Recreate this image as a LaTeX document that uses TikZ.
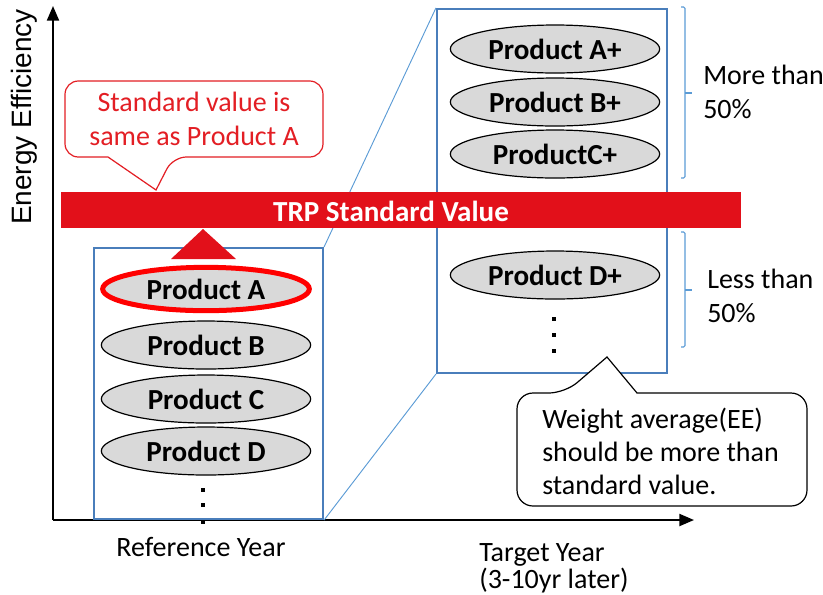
\documentclass[tikz,border=0pt]{standalone}
\usepackage{fontspec}
\setmainfont{Carlito}
\newfontfamily\axisfont{Liberation Sans}
\usetikzlibrary{arrows.meta,shapes.geometric}

\definecolor{trpred}{RGB}{226,16,26}
\definecolor{notered}{RGB}{227,30,36}
\definecolor{boxblue}{RGB}{74,126,187}
\definecolor{linkblue}{RGB}{91,155,213}
\definecolor{prodgray}{RGB}{217,217,217}

\tikzset{
  product/.style={ellipse, draw=black, line width=0.9pt, fill=prodgray,
    minimum width=157pt, minimum height=36pt, inner sep=0pt,
    font=\fontsize{21.8}{25}\selectfont\bfseries},
  yearbox/.style={draw=boxblue, line width=1.6pt, inner sep=0pt},
  link/.style={draw=linkblue, line width=0.7pt},
  bracket/.style={draw=linkblue, line width=0.8pt, rounded corners=1pt},
  note/.style={font=\fontsize{21}{25.5}\selectfont, align=left, inner sep=0pt},
  vdot/.style={fill=black, minimum size=3.6pt, inner sep=0pt},
}

\begin{document}
\begin{tikzpicture}[x=0.75pt,y=-0.75pt]
\useasboundingbox (0,0) rectangle (823,594);

% axes
\draw[line width=1.6pt, -{Triangle[length=11pt,width=9pt]}] (53,520) -- (53,6);
\draw[line width=1.6pt, -{Triangle[length=11pt,width=9pt]}] (53,520) -- (694,520);
\node[rotate=90, inner sep=0pt, font=\axisfont\fontsize{21}{24}\selectfont] (yaxis) at (24,117) {Energy Efficiency};

% year boxes and zoom lines
\node[yearbox, minimum width=171.75pt, minimum height=203.25pt] (refbox) at (208.5,383.5) {};
\node[yearbox, minimum width=172.5pt, minimum height=273pt] (tgtbox) at (552,191) {};
\draw[link] (refbox.north east) -- (tgtbox.north west);
\draw[link] (refbox.south east) -- (tgtbox.south west);

% reference year products
\node[product, draw=red, line width=3.75pt, minimum width=155pt, minimum height=32.5pt] (pa) at (206,289) {Product A};
\node[product] (pb) at (206,345) {Product B};
\node[product] (pc) at (206,399) {Product C};
\node[product] (pd) at (206,451) {Product D};
\foreach \y [count=\i] in {490,505,522}
  \node[vdot] (ldot\i) at (203,\y) {};

% target year products
\node[product] (pap) at (555,49) {Product A+};
\node[product] (pbp) at (555,102) {Product B+};
\node[product] (pcp) at (555,154) {ProductC+};
\node[product] (pdp) at (555,275) {Product D+};
\foreach \y [count=\i] in {319,335,351}
  \node[vdot] (rdot\i) at (554,\y) {};

% standard value bar
\node[fill=trpred, minimum width=510pt, minimum height=27pt, inner sep=0pt] (trp) at (401,210) {};
\node[text=white, font=\fontsize{21.8}{25}\selectfont\bfseries, inner sep=0pt] (trptext) at (391,211) {TRP Standard Value};
\fill[trpred] (171,259) -- (236,259) -- (203,229) -- cycle;

% red note
\draw[notered, line width=0.9pt, fill=white, rounded corners=10pt]
  (250,81) -- (323,81) -- (323,157) -- (173,157) [sharp corners] -- (156,190)
  -- (108,157) -- (95,157) [rounded corners=10pt] -- (65,157) -- (65,81) -- cycle;
\node[note, align=center, text=notered] (rednote) at (194,119) {Standard value is\\same as Product A};

% brackets
\draw[bracket] (681,7) -- (685,7) -- (685,178) -- (681,178);
\draw[bracket] (685,93) -- (692,93);
\draw[bracket] (681,232) -- (685,232) -- (685,347) -- (681,347);
\draw[bracket] (685,290) -- (692,290);
\node[note, anchor=west] (more) at (703,92) {More than\\50\%};
\node[note, anchor=west] (less) at (707,296) {Less than\\50\%};

% black note
\draw[black, line width=0.9pt, fill=white, rounded corners=12pt]
  (700,393) -- (807,393) -- (807,506) -- (517,506) -- (517,393) -- (565,393)
  [sharp corners] -- (607,357) -- (637,393) -- cycle;
\node[note, anchor=west, font=\fontsize{21}{24.75}\selectfont] (avgnote) at (542,451) {Weight average(EE)\\should be more than\\standard value.};

% axis labels
\node[note, anchor=base] (refyear) at (201,556) {Reference Year};
\node[note, anchor=west, font=\fontsize{21}{20.5}\selectfont] (tgtyear) at (479,568) {Target Year\\(3-10yr later)};
\end{tikzpicture}
\end{document}
